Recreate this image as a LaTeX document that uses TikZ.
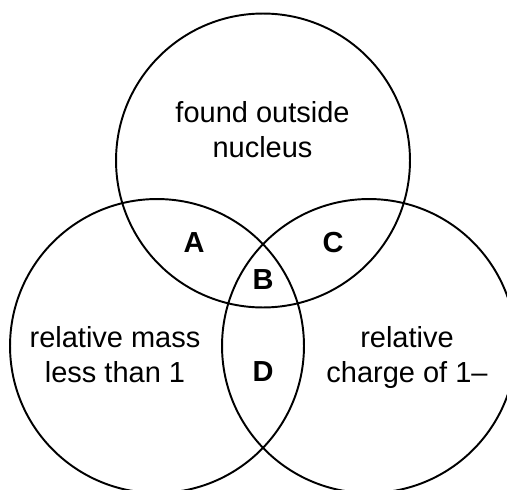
\documentclass[tikz,border=0pt]{standalone}
\usepackage{fontspec}
\setmainfont{Liberation Sans}
\tikzset{
  setcirc/.style={circle, draw, line width=1.1pt, minimum size=5.88cm, inner sep=0pt},
  setlabel/.style={align=center, anchor=base, inner sep=0pt, font=\fontsize{16.5}{19.6}\selectfont},
  region/.style={inner sep=0pt, font=\fontsize{16.5}{19.6}\selectfont\bfseries},
}
\begin{document}
\begin{tikzpicture}[x=0.02cm, y=-0.02cm]
  \useasboundingbox (0,0) rectangle (507,490);
  \clip (0,0) rectangle (507,490);
  % CIRCLES
  \node[setcirc] (outside) at (263,160.5) {};
  \node[setcirc] (mass) at (157,346) {};
  \node[setcirc] (charge) at (369,346) {};
  % SET LABELS (base = last line)
  \node[setlabel] (outsidetext) at (262.5,157) {found outside\\nucleus};
  \node[setlabel] (masstext) at (115,382) {relative mass\\less than 1};
  \node[setlabel] (chargetext) at (407,382) {relative\\charge of 1--};
  % REGIONS
  \node[region] (A) at (194,243) {A};
  \node[region] (B) at (263,280) {B};
  \node[region] (C) at (333,243) {C};
  \node[region] (D) at (263,372) {D};
\end{tikzpicture}
\end{document}
